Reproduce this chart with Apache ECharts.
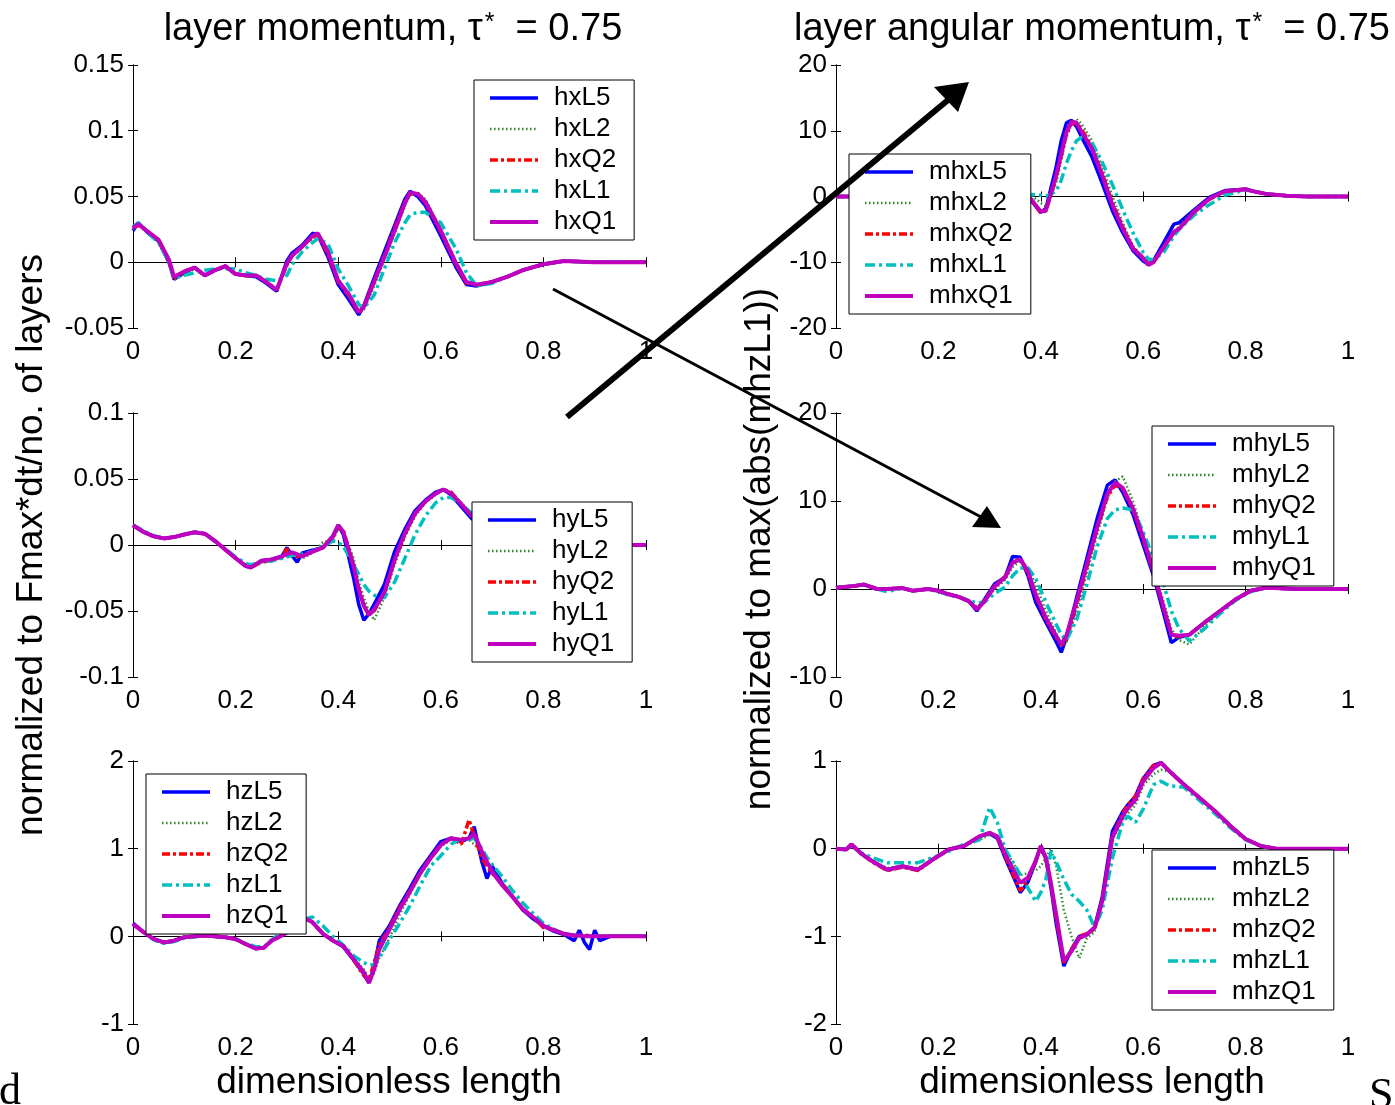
<!DOCTYPE html>
<html>
<head>
<meta charset="utf-8">
<script src="https://cdn.jsdelivr.net/npm/echarts@6.0.0/dist/echarts.min.js"></script>
<style>
  html, body { margin: 0; padding: 0; background: #fff; }
  #chart { width: 1395px; height: 1105px; }
</style>
</head>
<body>
<div id="chart"></div>
<script>
// ---- layer momentum, x component ----
const hxX  = [0,0.01,0.03,0.05,0.07,0.08,0.1,0.12,0.14,0.16,0.18,0.2,0.22,0.24,0.26,0.28,0.3,0.31,0.33,0.35,0.36,0.38,0.4,0.42,0.44,0.45,0.47,0.49,0.51,0.53,0.54,0.555,0.57,0.6,0.63,0.65,0.67,0.7,0.73,0.76,0.8,0.84,0.9,1.0];
const hxL5 = [0.024,0.030,0.022,0.016,0.000,-0.013,-0.008,-0.004,-0.010,-0.006,-0.003,-0.009,-0.010,-0.011,-0.016,-0.022,0.001,0.007,0.013,0.022,0.021,0.004,-0.017,-0.028,-0.040,-0.033,-0.012,0.008,0.028,0.048,0.054,0.050,0.043,0.020,-0.004,-0.017,-0.018,-0.015,-0.011,-0.006,-0.0015,0.001,0,0];
const hxL2 = [0.025,0.029,0.023,0.016,0.000,-0.013,-0.009,-0.005,-0.010,-0.006,-0.004,-0.009,-0.010,-0.011,-0.015,-0.021,-0.002,0.006,0.012,0.018,0.021,0.008,-0.012,-0.026,-0.036,-0.036,-0.018,0.002,0.022,0.043,0.051,0.053,0.048,0.025,0.000,-0.015,-0.018,-0.015,-0.011,-0.006,-0.0015,0.001,0,0];
const hxQ2 = [0.026,0.028,0.023,0.017,0.001,-0.012,-0.007,-0.004,-0.010,-0.006,-0.003,-0.009,-0.010,-0.010,-0.015,-0.021,-0.002,0.005,0.012,0.019,0.021,0.006,-0.015,-0.025,-0.039,-0.033,-0.014,0.005,0.026,0.046,0.052,0.052,0.045,0.023,-0.002,-0.016,-0.017,-0.015,-0.011,-0.006,-0.0015,0.001,0,0];
const hxL1 = [0.027,0.030,0.022,0.015,0.000,-0.012,-0.010,-0.008,-0.006,-0.005,-0.005,-0.005,-0.008,-0.010,-0.013,-0.014,-0.010,-0.002,0.008,0.015,0.018,0.014,-0.005,-0.018,-0.032,-0.035,-0.025,-0.005,0.015,0.030,0.036,0.038,0.038,0.030,0.010,-0.008,-0.018,-0.016,-0.011,-0.006,-0.0015,0.001,0,0];
const hxQ1 = [0.026,0.029,0.023,0.017,0.002,-0.011,-0.007,-0.004,-0.010,-0.006,-0.003,-0.009,-0.010,-0.010,-0.015,-0.021,-0.001,0.005,0.012,0.020,0.022,0.008,-0.014,-0.024,-0.038,-0.034,-0.015,0.004,0.024,0.045,0.053,0.052,0.046,0.024,-0.001,-0.015,-0.017,-0.015,-0.011,-0.006,-0.0015,0.001,0,0];

// ---- layer angular momentum, x component ----
const mhxX  = [0,0.05,0.1,0.15,0.2,0.25,0.3,0.35,0.38,0.4,0.41,0.43,0.44,0.45,0.46,0.47,0.48,0.5,0.52,0.54,0.56,0.58,0.6,0.61,0.62,0.64,0.66,0.67,0.7,0.73,0.76,0.8,0.82,0.84,0.88,0.92,1.0];
const mhxL5 = [0,0,0,0,0,0,0,0.1,-0.5,-2.4,-1.8,4.5,8.5,11.2,11.6,10.6,9.0,6.0,2.0,-2.2,-5.5,-8.2,-9.8,-10.3,-9.8,-7.0,-4.2,-4.0,-2.0,-0.1,0.9,1.1,0.7,0.4,0.1,0,0];
const mhxL2 = [0,0,0,0,0,0,0,0.2,0.3,-1.0,-1.5,2.0,5.5,9.0,11.0,11.8,11.0,8.5,4.5,0.0,-4.0,-7.5,-9.3,-10.0,-9.8,-8.0,-5.5,-4.5,-2.0,-0.3,0.8,1.1,0.7,0.4,0.1,0,0];
const mhxQ2 = [0,0,0,0,0,0,0,0.1,-0.4,-2.5,-2.2,2.8,6.2,9.5,11.0,11.2,10.2,7.5,3.5,-1.0,-4.6,-7.8,-9.4,-10.2,-10.0,-7.7,-5.5,-5.0,-2.4,-0.4,0.8,1.1,0.7,0.4,0.1,0,0];
const mhxL1 = [0,0,0,0,0,0,0,0.2,0.3,0.2,0.0,0.8,2.5,5.0,7.0,8.5,9.0,8.2,5.2,1.8,-2.0,-5.5,-8.5,-9.5,-9.6,-8.5,-6.0,-5.0,-2.8,-1.2,0.2,1.0,0.8,0.4,0.1,0,0];
const mhxQ1 = [0,0,0,0,0,0,0,0.1,-0.3,-2.3,-2.1,3.2,6.5,9.8,11.4,11.2,9.8,7.3,3.2,-1.3,-4.9,-7.9,-9.4,-10.4,-10.0,-7.7,-5.4,-4.9,-2.3,-0.3,0.8,1.1,0.7,0.4,0.1,0,0];

// ---- layer momentum, y component ----
const hyX  = [0,0.02,0.04,0.06,0.08,0.1,0.12,0.14,0.16,0.18,0.2,0.22,0.23,0.25,0.27,0.29,0.3,0.31,0.32,0.33,0.35,0.37,0.39,0.4,0.41,0.43,0.44,0.45,0.46,0.47,0.49,0.51,0.53,0.55,0.57,0.59,0.605,0.62,0.64,0.66,0.7,0.75,0.8,0.9,1.0];
const hyL5 = [0.015,0.010,0.0066,0.005,0.006,0.008,0.0096,0.0086,0.003,-0.0035,-0.010,-0.016,-0.017,-0.012,-0.011,-0.0086,-0.002,-0.008,-0.013,-0.006,-0.004,-0.002,0.007,0.015,0.008,-0.025,-0.045,-0.057,-0.052,-0.045,-0.030,-0.005,0.012,0.026,0.034,0.040,0.042,0.038,0.029,0.020,0.010,0.003,0.001,0,0];
const hyL2 = [0.014,0.010,0.0066,0.005,0.006,0.008,0.0096,0.0086,0.003,-0.0035,-0.010,-0.015,-0.016,-0.013,-0.012,-0.010,-0.008,-0.006,-0.007,-0.010,-0.006,0.002,0.004,0.012,0.010,-0.010,-0.028,-0.040,-0.050,-0.057,-0.040,-0.015,0.006,0.022,0.032,0.038,0.042,0.040,0.032,0.023,0.010,0.003,0.001,0,0];
const hyQ2 = [0.015,0.010,0.0066,0.005,0.006,0.008,0.0096,0.0086,0.003,-0.0035,-0.010,-0.016,-0.017,-0.013,-0.012,-0.009,-0.003,-0.006,-0.009,-0.008,-0.005,-0.002,0.006,0.014,0.011,-0.015,-0.032,-0.046,-0.052,-0.050,-0.036,-0.012,0.008,0.024,0.033,0.039,0.042,0.040,0.031,0.022,0.010,0.003,0.001,0,0];
const hyL1 = [0.015,0.011,0.007,0.005,0.006,0.008,0.0096,0.0086,0.003,-0.003,-0.009,-0.014,-0.015,-0.013,-0.012,-0.010,-0.009,-0.008,-0.007,-0.007,-0.005,-0.001,0.003,0.002,-0.001,-0.015,-0.022,-0.030,-0.035,-0.038,-0.040,-0.028,-0.010,0.008,0.022,0.032,0.036,0.036,0.031,0.024,0.012,0.004,0.001,0,0];
const hyQ1 = [0.015,0.010,0.0066,0.005,0.006,0.008,0.0096,0.0086,0.003,-0.0035,-0.010,-0.016,-0.017,-0.012,-0.011,-0.0086,-0.007,-0.0056,-0.007,-0.0086,-0.005,-0.002,0.0066,0.015,0.010,-0.016,-0.034,-0.046,-0.053,-0.049,-0.036,-0.011,0.009,0.024,0.033,0.039,0.042,0.039,0.031,0.022,0.010,0.003,0.001,0,0];

// ---- layer angular momentum, y component ----
const mhyX  = [0,0.03,0.055,0.08,0.1,0.13,0.15,0.18,0.2,0.22,0.24,0.26,0.275,0.29,0.31,0.33,0.345,0.36,0.375,0.39,0.41,0.43,0.44,0.45,0.47,0.49,0.51,0.53,0.545,0.56,0.58,0.6,0.62,0.64,0.655,0.67,0.69,0.72,0.75,0.78,0.81,0.84,0.9,1.0];
const mhyL5 = [0.15,0.3,0.5,0,0,0.1,-0.2,0,-0.2,-0.6,-0.9,-1.4,-2.5,-1.2,0.6,1.3,3.7,3.6,1.5,-1.5,-3.8,-6.0,-7.2,-5.5,-1.0,3.5,8.0,11.8,12.4,11.0,8.5,5.0,1.5,-2.8,-6.1,-5.5,-5.2,-3.8,-2.5,-1.2,-0.2,0.15,0,0];
const mhyL2 = [0.15,0.3,0.5,0,0,0.1,-0.2,0,-0.2,-0.6,-0.9,-1.3,-2.0,-1.5,0.0,1.0,2.5,3.2,2.4,0.5,-2.5,-5.0,-6.5,-6.0,-2.5,1.8,6.2,10.2,12.2,12.8,10.0,6.2,2.5,-1.5,-4.5,-5.8,-6.3,-4.2,-2.6,-1.2,-0.2,0.15,0,0];
const mhyQ2 = [0.15,0.3,0.5,0,0,0.1,-0.2,0,-0.2,-0.6,-0.9,-1.4,-2.3,-1.3,0.4,1.4,3.0,3.3,1.8,-0.8,-3.5,-5.5,-6.4,-5.8,-1.8,2.5,6.8,10.5,11.8,11.4,9.0,5.6,1.8,-2.3,-5.2,-5.4,-5.2,-3.8,-2.5,-1.2,-0.2,0.15,0,0];
const mhyL1 = [0.15,0.3,0.5,0,-0.3,0.1,-0.2,0,-0.3,-0.7,-0.9,-1.3,-1.6,-1.5,-0.5,0.2,1.5,2.4,2.4,1.2,-1.5,-4.0,-5.2,-5.8,-3.5,0.5,4.8,8.0,9.0,9.2,9.0,6.5,3.5,0.5,-2.5,-4.5,-5.9,-4.5,-2.8,-1.3,-0.3,0.15,0,0];
const mhyQ1 = [0.15,0.3,0.5,0,0,0.1,-0.2,0,-0.2,-0.6,-0.9,-1.4,-2.3,-1.4,0.3,1.3,3.0,3.4,2.0,-0.6,-3.3,-5.3,-6.3,-5.3,-1.4,2.8,7.0,10.8,12.1,11.5,9.2,5.8,2.0,-2.1,-5.2,-5.3,-5.2,-3.8,-2.5,-1.2,-0.2,0.15,0,0];

// ---- layer momentum, z component ----
const hzX  = [0,0.02,0.04,0.06,0.08,0.1,0.14,0.18,0.2,0.22,0.24,0.255,0.27,0.29,0.31,0.337,0.35,0.37,0.39,0.41,0.43,0.45,0.46,0.47,0.48,0.5,0.52,0.54,0.56,0.58,0.6,0.62,0.64,0.655,0.665,0.68,0.69,0.7,0.72,0.74,0.76,0.78,0.8,0.82,0.84,0.86,0.87,0.88,0.89,0.9,0.91,0.93,1.0];
const hzL5 = [0.15,0.05,-0.03,-0.07,-0.05,-0.01,0.01,-0.01,-0.03,-0.09,-0.14,-0.13,-0.05,0.01,0.08,0.2,0.16,0.03,-0.05,-0.12,-0.27,-0.43,-0.53,-0.35,-0.05,0.12,0.35,0.55,0.76,0.92,1.08,1.12,1.08,1.12,1.25,0.85,0.66,0.8,0.6,0.45,0.3,0.2,0.12,0.06,0.02,-0.05,0.07,-0.07,-0.15,0.07,-0.05,0,0];
const hzL2 = [0.14,0.05,-0.03,-0.07,-0.05,-0.01,0.01,-0.01,-0.03,-0.09,-0.14,-0.13,-0.05,0.01,0.08,0.2,0.16,0.03,-0.05,-0.11,-0.24,-0.38,-0.47,-0.42,-0.25,-0.02,0.25,0.48,0.7,0.88,1.03,1.1,1.12,1.1,1.05,0.95,0.85,0.75,0.6,0.45,0.32,0.22,0.12,0.07,0.03,0.01,0.01,0,0,0,0,0,0];
const hzQ2 = [0.14,0.05,-0.03,-0.07,-0.05,-0.01,0.01,-0.01,-0.03,-0.09,-0.14,-0.13,-0.05,0.01,0.08,0.2,0.16,0.03,-0.05,-0.11,-0.27,-0.45,-0.5,-0.3,-0.1,0.1,0.33,0.52,0.73,0.9,1.05,1.12,1.05,1.33,1.15,0.89,0.8,0.72,0.6,0.45,0.3,0.22,0.1,0.08,0.02,0.01,0,0.02,0,0,0,0,0];
const hzL1 = [0.14,0.05,-0.04,-0.08,-0.06,-0.02,0.01,-0.01,-0.03,-0.08,-0.12,-0.12,-0.04,0.05,0.12,0.2,0.22,0.12,0.0,-0.1,-0.22,-0.3,-0.33,-0.32,-0.25,-0.04,0.15,0.35,0.58,0.8,0.92,1.05,1.12,1.1,1.12,1.0,0.9,0.82,0.68,0.52,0.38,0.26,0.15,0.08,0.03,0.01,0.01,0,0,0,0,0,0];
const hzQ1 = [0.14,0.05,-0.03,-0.07,-0.05,-0.01,0.01,-0.01,-0.03,-0.09,-0.14,-0.13,-0.05,0.01,0.08,0.2,0.16,0.03,-0.05,-0.11,-0.26,-0.41,-0.53,-0.38,-0.15,0.08,0.31,0.51,0.72,0.89,1.04,1.12,1.1,1.12,1.17,0.97,0.85,0.74,0.58,0.45,0.31,0.22,0.12,0.07,0.03,0.01,0.01,0,0,0,0,0,0];

// ---- layer angular momentum, z component ----
const mhzX  = [0,0.02,0.03,0.05,0.07,0.1,0.13,0.16,0.19,0.22,0.25,0.28,0.3,0.315,0.33,0.36,0.375,0.39,0.4,0.41,0.42,0.43,0.445,0.46,0.475,0.49,0.505,0.52,0.54,0.56,0.57,0.585,0.6,0.62,0.635,0.65,0.68,0.71,0.74,0.77,0.8,0.83,0.86,1.0];
const mhzL5 = [0,-0.01,0.05,-0.06,-0.14,-0.24,-0.2,-0.24,-0.12,-0.01,0.03,0.14,0.17,0.12,-0.1,-0.5,-0.38,-0.15,0.03,-0.12,-0.45,-0.85,-1.34,-1.15,-1.0,-0.98,-0.9,-0.55,0.2,0.42,0.5,0.6,0.8,0.95,0.98,0.89,0.73,0.58,0.43,0.26,0.11,0.03,0,0];
const mhzL2 = [0,-0.01,0.04,-0.05,-0.13,-0.22,-0.2,-0.22,-0.12,-0.02,0.03,0.1,0.16,0.15,0.0,-0.3,-0.28,-0.25,-0.2,-0.1,0.0,-0.2,-0.7,-1.0,-1.25,-1.02,-0.95,-0.55,0.1,0.33,0.4,0.5,0.72,0.85,0.9,0.88,0.73,0.57,0.42,0.26,0.11,0.03,0,0];
const mhzQ2 = [0,-0.01,0.04,-0.06,-0.15,-0.25,-0.21,-0.25,-0.12,-0.01,0.03,0.14,0.18,0.13,-0.08,-0.48,-0.35,-0.14,0.03,-0.12,-0.42,-0.8,-1.3,-1.15,-1.0,-0.97,-0.92,-0.6,0.15,0.4,0.5,0.6,0.8,0.95,0.98,0.89,0.73,0.58,0.43,0.26,0.11,0.03,0,0];
const mhzL1 = [0,-0.01,0.03,-0.05,-0.1,-0.16,-0.16,-0.16,-0.1,-0.03,0.05,0.1,0.47,0.3,0.0,-0.3,-0.45,-0.6,-0.5,-0.35,-0.03,-0.15,-0.35,-0.52,-0.6,-0.7,-0.9,-0.7,-0.1,0.3,0.37,0.3,0.45,0.73,0.77,0.72,0.7,0.55,0.4,0.24,0.1,0.03,0,0];
const mhzQ1 = [0,-0.01,0.05,-0.06,-0.14,-0.24,-0.2,-0.24,-0.12,-0.01,0.03,0.14,0.18,0.14,-0.06,-0.39,-0.33,-0.14,0.03,-0.1,-0.4,-0.75,-1.28,-1.17,-1.02,-0.98,-0.9,-0.6,0.13,0.37,0.46,0.56,0.77,0.92,0.98,0.89,0.73,0.58,0.43,0.26,0.11,0.03,0,0];

// ---- texts ----
const leftTitle  = '{a|layer momentum, τ}{s|*}{a|  = 0.75}';
const rightTitle = '{a|layer angular momentum, τ}{s|*}{a|  = 0.75}';
const leftYName  = 'normalized to Fmax*dt/no. of layers';
const rightYName = 'normalized to max(abs(mhzL1))';
const xName      = 'dimensionless length';

const SANS = '"Liberation Sans", Arial, Helvetica, sans-serif';
const SERIF = '"Liberation Serif", "Times New Roman", serif';

// line styles in plotting order: L5, L2, Q2, L1, Q1
const lineStyles = [
  { color: '#0000ff', width: 3.5, type: 'solid' },
  { color: '#2e8b2e', width: 2.5, type: [1.5, 2.5] },
  { color: '#ff0000', width: 3.5, type: [8, 3, 3, 3] },
  { color: '#00bfbf', width: 3.5, type: [10, 4, 3, 4] },
  { color: '#bf00bf', width: 4,   type: 'solid' }
];

const panels = [
  { x: hxX,  prefix: 'hx',  ys: [hxL5, hxL2, hxQ2, hxL1, hxQ1],
    grid: { left: 133, top: 65,  width: 513, height: 263 }, y: { min: -0.05, max: 0.15, interval: 0.05 },
    legend: { left: 474,  top: 80 } },
  { x: mhxX, prefix: 'mhx', ys: [mhxL5, mhxL2, mhxQ2, mhxL1, mhxQ1],
    grid: { left: 836, top: 65,  width: 512, height: 263 }, y: { min: -20, max: 20, interval: 10 },
    legend: { left: 849,  top: 154 } },
  { x: hyX,  prefix: 'hy',  ys: [hyL5, hyL2, hyQ2, hyL1, hyQ1],
    grid: { left: 133, top: 413, width: 513, height: 264 }, y: { min: -0.1, max: 0.1, interval: 0.05 },
    legend: { left: 472,  top: 502 } },
  { x: mhyX, prefix: 'mhy', ys: [mhyL5, mhyL2, mhyQ2, mhyL1, mhyQ1],
    grid: { left: 836, top: 413, width: 512, height: 264 }, y: { min: -10, max: 20, interval: 10 },
    legend: { left: 1152, top: 426 } },
  { x: hzX,  prefix: 'hz',  ys: [hzL5, hzL2, hzQ2, hzL1, hzQ1],
    grid: { left: 133, top: 761, width: 513, height: 263 }, y: { min: -1, max: 2, interval: 1 },
    legend: { left: 146,  top: 774 } },
  { x: mhzX, prefix: 'mhz', ys: [mhzL5, mhzL2, mhzQ2, mhzL1, mhzQ1],
    grid: { left: 836, top: 761, width: 512, height: 263 }, y: { min: -2, max: 1, interval: 1 },
    legend: { left: 1152, top: 850 } }
];
const suffixes = ['L5', 'L2', 'Q2', 'L1', 'Q1'];

const grids = [], xAxes = [], yAxes = [], series = [], legends = [];
const axisLine = { show: true, lineStyle: { color: '#000', width: 1 } };
const axisTick = { show: true, inside: true, length: 5, lineStyle: { color: '#000', width: 1 } };
const tickFont = { fontFamily: SANS, fontSize: 26, color: '#000' };

panels.forEach((p, i) => {
  grids.push(Object.assign({ containLabel: false }, p.grid));
  const xBase = { type: 'value', gridIndex: i, min: 0, max: 1, interval: 0.2,
                  splitLine: { show: false }, axisLine, axisTick };
  xAxes.push(Object.assign({}, xBase, { position: 'bottom',
    axisLabel: Object.assign({ margin: 11 }, tickFont) }));
  xAxes.push(Object.assign({}, xBase, { position: 'top', axisLabel: { show: false } }));
  const yBase = { type: 'value', gridIndex: i, min: p.y.min, max: p.y.max, interval: p.y.interval,
                  splitLine: { show: false }, axisLine, axisTick };
  yAxes.push(Object.assign({}, yBase, { position: 'left',
    axisLabel: Object.assign({ margin: 9 }, tickFont) }));
  yAxes.push(Object.assign({}, yBase, { position: 'right', axisLabel: { show: false } }));

  const names = suffixes.map(s => p.prefix + s);
  p.ys.forEach((ys, k) => {
    const ls = lineStyles[k];
    series.push({
      type: 'line', name: names[k], xAxisIndex: 2 * i, yAxisIndex: 2 * i,
      data: p.x.map((xv, j) => [xv, ys[j]]),
      symbol: 'none', showSymbol: false, smooth: false, clip: true,
      lineStyle: { color: ls.color, width: ls.width, type: ls.type },
      itemStyle: { color: ls.color },
      emphasis: { disabled: true }, z: 2 + k
    });
  });

  legends.push({
    orient: 'vertical', left: p.legend.left, top: p.legend.top,
    data: names.map((n, k) => ({
      name: n,
      itemStyle: { opacity: 0 },
      lineStyle: { color: lineStyles[k].color, width: lineStyles[k].width, type: lineStyles[k].type }
    })),
    backgroundColor: '#fff', borderColor: '#000', borderWidth: 1,
    padding: [4, 18, 4, 14], itemWidth: 48, itemHeight: 20, itemGap: 3,
    selectedMode: false, z: 10,
    textStyle: { fontFamily: SANS, fontSize: 26, color: '#000', lineHeight: 28, padding: [0, 0, 0, 11] }
  });
});

const titleRich = {
  a: { fontFamily: SANS, fontSize: 38, fontWeight: 'normal', color: '#000' },
  s: { fontFamily: SANS, fontSize: 25, fontWeight: 'normal', color: '#000', verticalAlign: 'top', padding: [0, 0, 0, 2] }
};

function arrowHead(tip, a, b, z) {
  return { type: 'polygon', z, shape: { points: [tip, a, b] }, style: { fill: '#000' } };
}

const option = {
  animation: false,
  backgroundColor: '#fff',
  title: [
    { text: leftTitle,  left: 388,  top: 6, textAlign: 'center',
      textStyle: { fontWeight: 'normal', rich: titleRich } },
    { text: rightTitle, left: 1087, top: 6, textAlign: 'center',
      textStyle: { fontWeight: 'normal', rich: titleRich } }
  ],
  grid: grids,
  xAxis: xAxes,
  yAxis: yAxes,
  legend: legends,
  series: series,
  graphic: [
    { type: 'text', x: 32, y: 545, rotation: Math.PI / 2, z: 50,
      style: { text: leftYName, font: '37px ' + SANS, fill: '#000', align: 'center', verticalAlign: 'middle' } },
    { type: 'text', x: 760, y: 549, rotation: Math.PI / 2, z: 50,
      style: { text: rightYName, font: '37px ' + SANS, fill: '#000', align: 'center', verticalAlign: 'middle' } },
    { type: 'text', x: 389, y: 1083, z: 50,
      style: { text: xName, font: '37px ' + SANS, fill: '#000', align: 'center', verticalAlign: 'middle' } },
    { type: 'text', x: 1092, y: 1083, z: 50,
      style: { text: xName, font: '37px ' + SANS, fill: '#000', align: 'center', verticalAlign: 'middle' } },
    { type: 'text', x: -1, y: 1114, z: 50,
      style: { text: 'd', font: '44px ' + SERIF, fill: '#000', align: 'left', verticalAlign: 'bottom' } },
    { type: 'text', x: 1369, y: 1118, z: 50,
      style: { text: 'S', font: '44px ' + SERIF, fill: '#000', align: 'left', verticalAlign: 'bottom' } },
    // thick arrow pointing to the angular momentum panel
    { type: 'line', z: 60, shape: { x1: 567, y1: 417, x2: 948, y2: 100 },
      style: { stroke: '#000', lineWidth: 6 } },
    arrowHead([969, 82], [934, 87], [958, 112], 61),
    // thin arrow pointing into the y angular momentum panel
    { type: 'line', z: 60, shape: { x1: 553, y1: 289, x2: 981, y2: 517 },
      style: { stroke: '#000', lineWidth: 3 } },
    arrowHead([1001, 528], [972, 527], [987, 506], 61)
  ]
};

const chart = echarts.init(document.getElementById('chart'), null, { renderer: 'canvas' });
chart.setOption(option);
</script>
</body>
</html>
